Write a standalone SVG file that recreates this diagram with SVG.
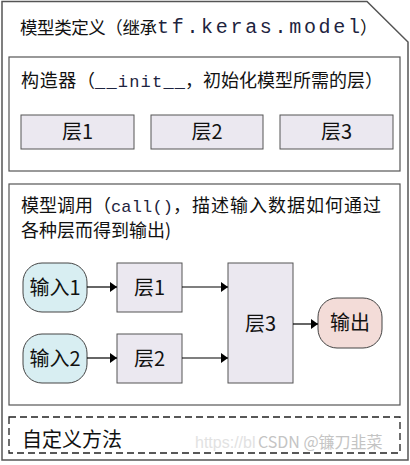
<svg xmlns="http://www.w3.org/2000/svg" width="410" height="465" viewBox="0 0 410 465">
<style>
.cn{font-family:"Noto Sans CJK SC","Noto Sans",sans-serif;fill:#111}
.mono{font-family:"Liberation Mono","DejaVu Sans Mono",monospace;fill:#1e2440}
.frame{fill:#fff;stroke:#555;stroke-width:1.2}
.layer{fill:#ebe8f0;stroke:#555;stroke-width:1}
.inp{fill:#d8eef2;stroke:#444;stroke-width:1}
.out{fill:#f3dcd8;stroke:#444;stroke-width:1}
.lbl{font-family:"Noto Sans CJK SC","Noto Sans",sans-serif;font-size:20px;fill:#111;text-anchor:middle}
.conn{stroke:#000;stroke-width:1.2;fill:none;marker-end:url(#ah)}
</style>
<defs>
<marker id="ah" markerUnits="userSpaceOnUse" markerWidth="8" markerHeight="10" refX="7" refY="5" orient="auto">
<path d="M0,0 L7,5 L0,10 z" fill="#000"/>
</marker>
</defs>
<rect width="410" height="465" fill="#fff"/>
<g id="model-class">
<path d="M2,1.5 H367 L408,42 V460 H2 Z" fill="#fff" stroke="#555" stroke-width="1.5"/>
<text class="cn" x="20" y="34" font-size="17.5" textLength="137">模型类定义（继承</text>
<text class="mono" x="157" y="33" font-size="20" textLength="203">tf.keras.model</text>
<text class="cn" x="360" y="34" font-size="17.5">）</text>
</g>
<g id="constructor">
<rect class="frame" x="9" y="57" width="391" height="114"/>
<text class="cn" x="21" y="87" font-size="18" textLength="74">构造器（</text>
<text class="mono" x="95" y="87" font-size="17" textLength="90">__init__</text>
<text class="cn" x="185" y="87" font-size="18" textLength="198">，初始化模型所需的层）</text>
</g>
<g id="c-layer1"><rect class="layer" x="21" y="115" width="113" height="34"/><text class="lbl" x="77.5" y="139">层1</text></g>
<g id="c-layer2"><rect class="layer" x="151" y="115" width="112" height="34"/><text class="lbl" x="207" y="139">层2</text></g>
<g id="c-layer3"><rect class="layer" x="280" y="115" width="113" height="34"/><text class="lbl" x="336.5" y="139">层3</text></g>
<g id="call">
<rect class="frame" x="9" y="184" width="391" height="221"/>
<text class="cn" x="21" y="212" font-size="18" textLength="90">模型调用（</text>
<text class="mono" x="111" y="212" font-size="17" textLength="62">call()</text>
<text class="cn" x="173" y="212" font-size="18" textLength="208">，描述输入数据如何通过</text>
<text class="cn" x="21" y="237" font-size="18">各种层而得到输出)</text>
</g>
<g id="input1"><rect class="inp" x="23" y="263" width="64" height="49" rx="19" ry="19"/><text class="lbl" x="55" y="295">输入1</text></g>
<g id="input2"><rect class="inp" x="23" y="334" width="64" height="49" rx="19" ry="19"/><text class="lbl" x="55" y="366">输入2</text></g>
<g id="layer1"><rect class="layer" x="117" y="263" width="65" height="49"/><text class="lbl" x="149.5" y="295">层1</text></g>
<g id="layer2"><rect class="layer" x="117" y="334" width="65" height="49"/><text class="lbl" x="149.5" y="366">层2</text></g>
<g id="layer3"><rect class="layer" x="228" y="263" width="65" height="120"/><text class="lbl" x="260.5" y="331">层3</text></g>
<g id="output"><rect class="out" x="318" y="298" width="64" height="50" rx="19" ry="19"/><text class="lbl" x="350" y="330">输出</text></g>
<g id="connectors">
<line class="conn" x1="87" y1="287" x2="117" y2="287"/>
<line class="conn" x1="87" y1="358" x2="117" y2="358"/>
<line class="conn" x1="182" y1="287" x2="228" y2="287"/>
<line class="conn" x1="182" y1="358" x2="228" y2="358"/>
<line class="conn" x1="293" y1="324" x2="318" y2="324"/>
</g>
<g id="custom-methods">
<rect x="9" y="417" width="391" height="36" fill="none" stroke="#222" stroke-width="1.3" stroke-dasharray="7,4"/>
<text class="cn" x="22" y="447" font-size="20">自定义方法</text>
</g>
<text x="195" y="448" font-family="Liberation Sans,Arial,sans-serif" font-size="16" fill="#e2e2e2">https://bl</text>
<text x="258" y="448" font-family="Noto Sans CJK SC,sans-serif" font-size="16" fill="#c4c4c4">CSDN @镰刀韭菜</text>
</svg>
